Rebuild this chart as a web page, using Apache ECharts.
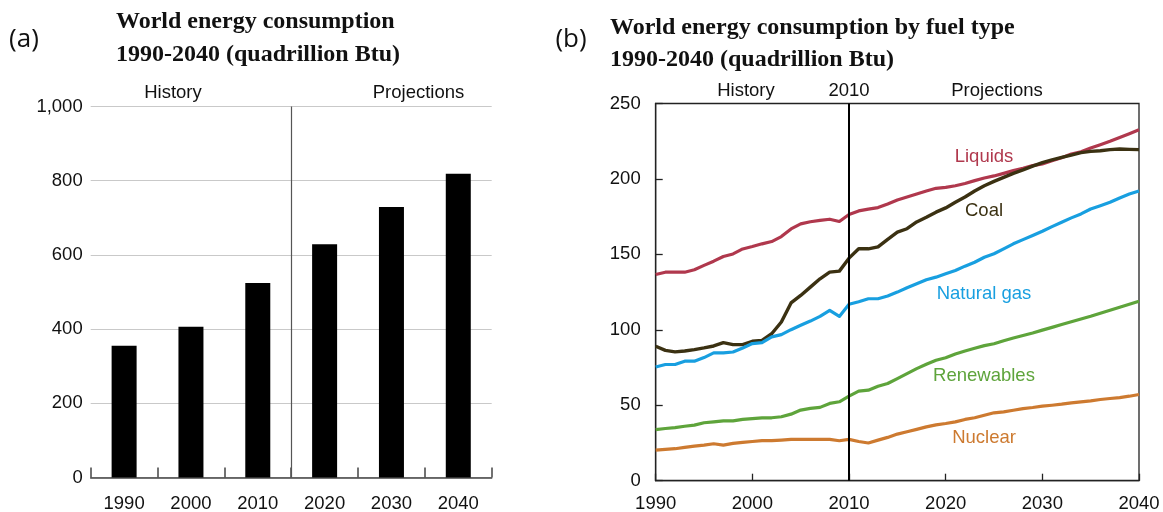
<!DOCTYPE html>
<html>
<head>
<meta charset="utf-8">
<script src="https://cdn.jsdelivr.net/npm/echarts@6/dist/echarts.min.js"></script>
<style>
html,body{margin:0;padding:0;background:#fff;}
#chart{width:1163px;height:512px;}
</style>
</head>
<body>
<div id="chart"></div>
<script>
// ---- Data ----
const barCategories = ['1990', '2000', '2010', '2020', '2030', '2040'];
const totalConsumption = [355, 406, 524, 629, 729, 819];

const years = Array.from({length: 51}, (_, i) => 1990 + i);
const liquids = [136.7,138.2,138.2,138.2,139.8,142.7,145.5,148.6,150.3,153.6,
  155.2,157,158.5,161.8,166.9,170.2,171.6,172.5,173.3,171.8,
  176.4,178.8,180,181,183.4,186,188,190,192,193.8,
  194.4,195.5,197,198.9,200.6,202,203.7,205.5,207,208.8,
  210,212,214,216.5,218,220.5,222.7,225,227.5,230,232.6];
const coal = [89.1,86.4,85.4,86,86.9,88,89.3,91.5,90.2,90.2,
  92.4,93,97.4,105.2,117.8,122.8,128.3,133.8,138.2,138.9,
  147.5,153.7,153.7,155,160,164.7,167,171.5,174.6,178,
  180.8,184.5,188,192,195.5,198.4,201,203.7,206,208.5,
  210.8,212.7,214.3,215.8,217.4,218.3,218.7,219.4,219.8,219.6,219.4];
const naturalGas = [75.4,77,77,79.2,79.2,81.6,84.7,84.7,85.3,88,
  90.9,91.5,95.3,96.8,100.1,103,105.8,108.9,112.9,108.9,
  116.9,118.6,120.6,120.6,122.4,125,127.9,130.5,133.2,134.9,
  137.1,139.3,142.2,144.8,148.1,150.4,153.7,157,159.8,162.5,
  165.3,168.4,171.3,174.2,176.8,180.1,182.3,184.5,187.4,190,192];
const renewables = [33.9,34.6,35.2,36.1,36.8,38.4,39,39.7,39.7,40.6,
  41.2,41.7,41.7,42.4,44.1,46.8,47.9,48.6,51.2,52.3,
  56,59.4,60,62.6,64.4,67.7,71,74.3,77.2,79.8,
  81.5,84,86,87.8,89.5,90.8,92.8,94.6,96.2,97.9,
  99.8,101.6,103.5,105.3,107.2,109,111,113,115,117,119];
const nuclear = [20.3,20.8,21.2,22.1,22.9,23.6,24.5,23.6,24.7,25.4,
  26,26.5,26.5,26.9,27.4,27.4,27.4,27.4,27.4,26.5,
  27.4,26,25,26.9,28.7,30.9,32.4,34,35.7,37,
  37.9,39,40.6,41.7,43.4,45,45.6,46.7,47.8,48.5,
  49.4,50,50.7,51.6,52.2,52.9,53.8,54.5,55.1,56,57.1];

const fuelSeries = [
  {name: 'Liquids', values: liquids, color: '#b0384d', width: 3.2},
  {name: 'Coal', values: coal, color: '#3b3112', width: 3.4},
  {name: 'Natural gas', values: naturalGas, color: '#189fe0', width: 3.2},
  {name: 'Renewables', values: renewables, color: '#5ea43b', width: 3.2},
  {name: 'Nuclear', values: nuclear, color: '#cd7a30', width: 3.2}
];
const fuelLabelPos = {
  'Liquids': 157, 'Coal': 210.5, 'Natural gas': 293.5, 'Renewables': 375.5, 'Nuclear': 437.5
};

const SANS = '"Liberation Sans", Arial, sans-serif';
const SERIF = '"Liberation Serif", "Times New Roman", serif';

const chart = echarts.init(document.getElementById('chart'), null, {renderer: 'canvas'});

const lineSeries = fuelSeries.map((s, i) => {
  const ser = {
    type: 'line',
    name: s.name,
    xAxisIndex: 2,
    yAxisIndex: 1,
    data: years.map((y, k) => [y, s.values[k]]),
    showSymbol: false,
    symbol: 'none',
    lineStyle: {color: s.color, width: s.width, join: 'round'},
    itemStyle: {color: s.color},
    silent: true,
    z: 3
  };
  if (i === 0) {
    ser.markLine = {
      silent: true, symbol: ['none', 'none'], label: {show: false},
      lineStyle: {color: '#000', width: 2, type: 'solid'},
      data: [{xAxis: 2010}], z: 5
    };
  }
  return ser;
});

function txt(text, x, y, opts) {
  return {
    type: 'text', x: x, y: y, silent: true,
    style: Object.assign({
      text: text, fill: '#111', font: '18.5px ' + SANS,
      align: 'center', verticalAlign: 'middle'
    }, opts || {})
  };
}

const graphics = [
  txt('(a)', 24, 40, {font: '26px "Open Sans", sans-serif', fill: '#111'}),
  txt('World energy consumption', 116, 22, {font: 'bold 24px ' + SERIF, align: 'left', fill: '#111'}),
  txt('1990-2040 (quadrillion Btu)', 116, 55, {font: 'bold 24px ' + SERIF, align: 'left', fill: '#111'}),
  txt('History', 173, 93),
  txt('Projections', 418.5, 93),
  txt('(b)', 571, 40, {font: '26px "Open Sans", sans-serif', fill: '#111'}),
  txt('World energy consumption by fuel type', 610, 28, {font: 'bold 24px ' + SERIF, align: 'left', fill: '#111'}),
  txt('1990-2040 (quadrillion Btu)', 610, 60, {font: 'bold 24px ' + SERIF, align: 'left', fill: '#111'}),
  txt('History', 746, 91),
  txt('2010', 849, 91),
  txt('Projections', 997, 91)
];
fuelSeries.forEach(s => {
  graphics.push(txt(s.name, 984, fuelLabelPos[s.name], {fill: s.color, font: '18.5px ' + SANS}));
});

const option = {
  animation: false,
  backgroundColor: '#fff',
  grid: [
    {left: 90.7, top: 106.5, width: 401, height: 371, outerBoundsMode: 'none', containLabel: false},
    {left: 655.7, top: 103.5, width: 483.3, height: 377.2, outerBoundsMode: 'none', containLabel: false,
     show: true, borderColor: '#222', borderWidth: 1.3, backgroundColor: 'transparent'}
  ],
  xAxis: [
    {
      type: 'category', gridIndex: 0, data: barCategories,
      axisLine: {show: true, lineStyle: {color: '#444', width: 1.5}},
      axisTick: {show: true, inside: true, length: 10, alignWithLabel: false, lineStyle: {color: '#444', width: 1.5}},
      axisLabel: {color: '#111', fontSize: 18.5, fontFamily: SANS, margin: 17},
      splitLine: {show: false}
    },
    {
      type: 'value', gridIndex: 0, min: 0, max: 6, show: false
    },
    {
      type: 'value', gridIndex: 1, min: 1990, max: 2040, interval: 10,
      axisLine: {show: true, lineStyle: {color: '#222', width: 1.3}},
      axisTick: {show: true, inside: true, length: 7, lineStyle: {color: '#222', width: 1.3}},
      axisLabel: {color: '#111', fontSize: 18.5, fontFamily: SANS, margin: 14,
        formatter: v => String(v)},
      splitLine: {show: false}
    }
  ],
  yAxis: [
    {
      type: 'value', gridIndex: 0, min: 0, max: 1000, interval: 200,
      axisLine: {show: false}, axisTick: {show: false},
      axisLabel: {color: '#111', fontSize: 18.5, fontFamily: SANS, margin: 8,
        formatter: v => v.toLocaleString('en-US')},
      splitLine: {show: true, lineStyle: {color: '#c9c9c9', width: 1}}
    },
    {
      type: 'value', gridIndex: 1, min: 0, max: 250, interval: 50,
      axisLine: {show: true, lineStyle: {color: '#222', width: 1.3}},
      axisTick: {show: true, inside: true, length: 7, lineStyle: {color: '#222', width: 1.3}},
      axisLabel: {color: '#111', fontSize: 18.5, fontFamily: SANS, margin: 15,
        formatter: v => String(v)},
      splitLine: {show: false}
    }
  ],
  series: [
    {
      type: 'bar', name: 'World energy consumption', xAxisIndex: 0, yAxisIndex: 0,
      data: totalConsumption, barWidth: 25,
      itemStyle: {color: '#000'}, silent: true, z: 3
    },
    {
      type: 'line', name: 'divider', xAxisIndex: 1, yAxisIndex: 0,
      data: [], showSymbol: false, silent: true,
      markLine: {
        silent: true, symbol: ['none', 'none'], label: {show: false},
        lineStyle: {color: '#555', width: 1.2, type: 'solid'},
        data: [{xAxis: 3}]
      }
    }
  ].concat(lineSeries),
  graphic: graphics
};

chart.setOption(option);
</script>
</body>
</html>
